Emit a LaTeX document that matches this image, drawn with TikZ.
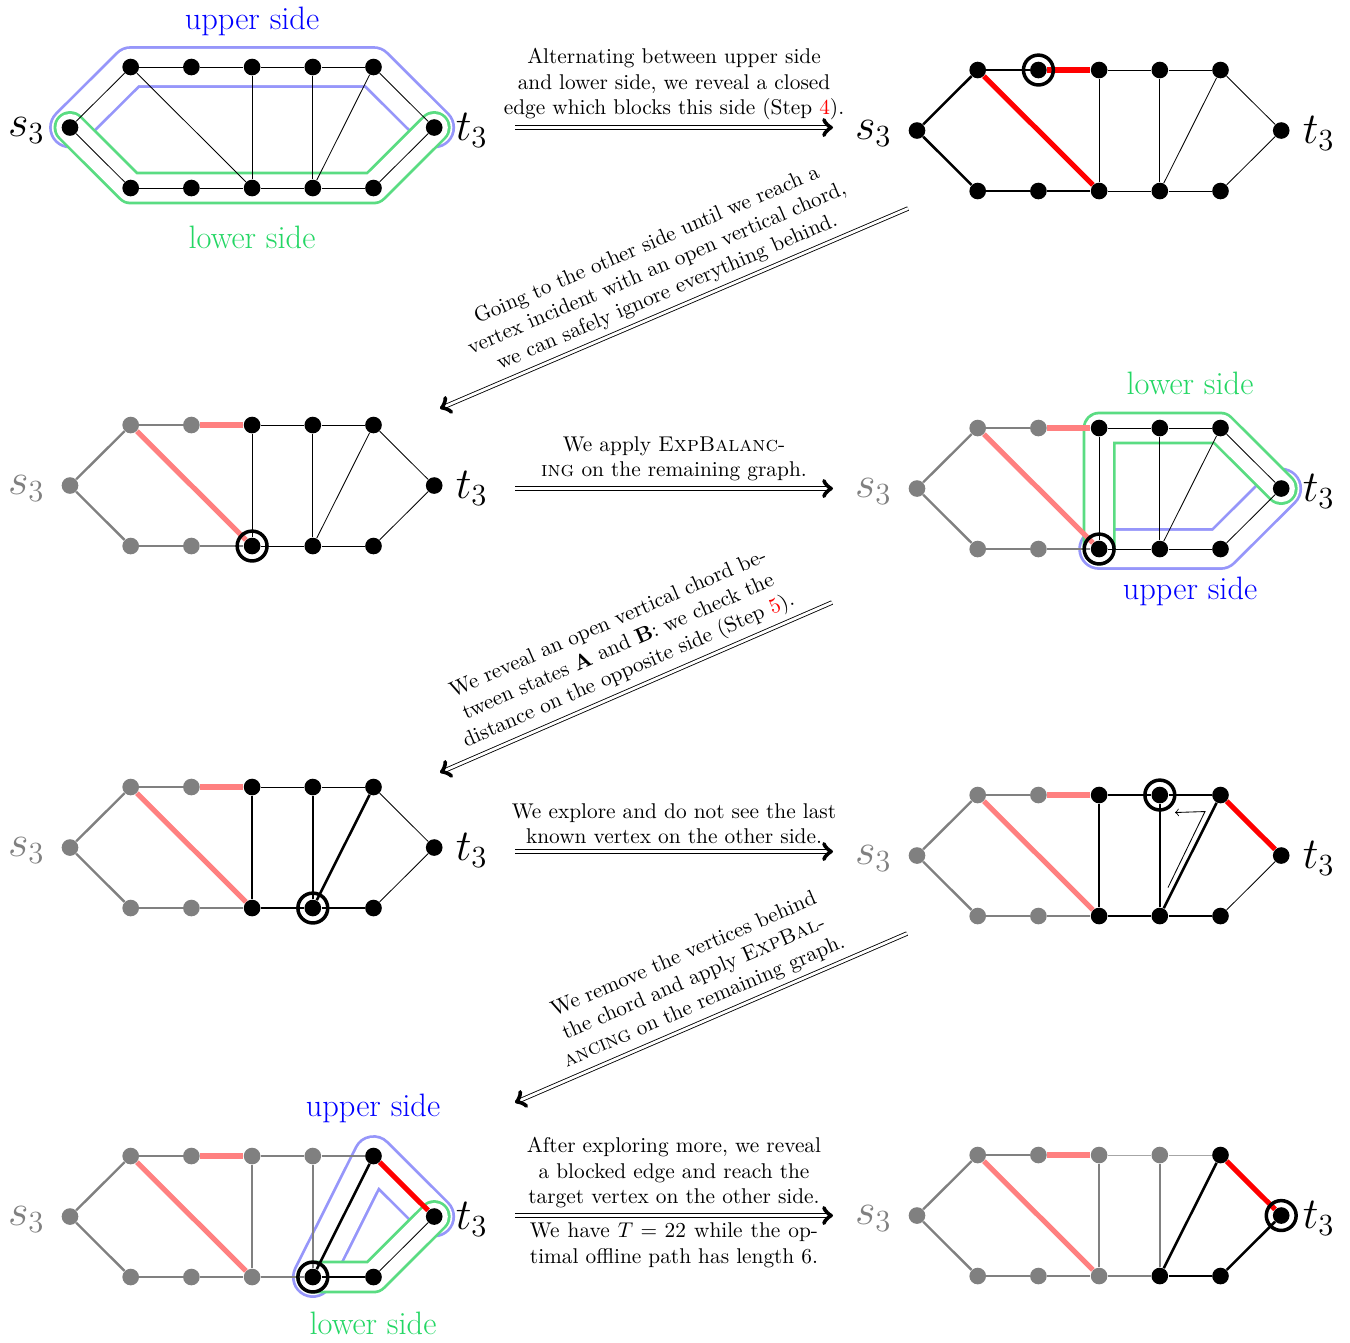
\documentclass[tikz,border=0pt]{standalone}
\usetikzlibrary{positioning,calc}
\pgfdeclarelayer{bglayer}
\pgfdeclarelayer{bandlayer}
\pgfdeclarelayer{edgelayer}
\pgfsetlayers{bglayer,bandlayer,edgelayer,main}
\definecolor{bandblue}{RGB}{150,150,250}
\definecolor{sideblue}{RGB}{0,0,255}
\definecolor{bandgreen}{RGB}{90,220,130}
\definecolor{sidegreen}{RGB}{35,215,100}
\definecolor{fadered}{RGB}{255,128,128}
\newlength\capw
\def\U{60.7}
\def\V{60.5}
\tikzset{
 vtx/.style={circle, fill=black, inner sep=0pt, minimum size=7.8pt},
 ring/.style={circle, draw=black, line width=1.64pt, inner sep=0pt, minimum size=14pt},
 lbl/.style={font=\fontsize{22}{26}\selectfont, inner sep=3.33pt, yshift=-1.4pt},
 thinE/.style={draw=black, line width=0.4pt},
 thickE/.style={draw=black, line width=1.2pt},
 redE/.style={draw=red, line width=2.4pt},
 fadeE/.style={draw=fadered, line width=2.4pt},
 grayE/.style={draw=gray, line width=1.1pt},
 grayThin/.style={draw=gray!70, line width=0.5pt},
 blueband/.style={draw=bandblue, line width=19.6pt, line cap=round, line join=round, postaction={draw=white, line width=17.0pt}},
 greenband/.style={draw=bandgreen, line width=15.4pt, line cap=round, line join=round, postaction={draw=white, line width=12.8pt}},
 bigarr/.style={draw=black, double, double distance=1.3pt, line width=0.4pt, ->},
 captxt/.style={align=center, font=\normalsize},
 sidetxt/.style={font=\fontsize{15.2}{18}\selectfont},
}
\newcommand\mkgraph[5]{%
 \begin{scope}[shift={(#2,#3)}]
  \node[vtx,fill=#4] (#1s) at (0,0) {};
  \node[vtx,fill=#4] (#1u1) at (1*\U,-\V) {};
  \node[vtx,fill=#4] (#1u2) at (2*\U,-\V) {};
  \node[vtx,fill=#5] (#1u3) at (3*\U,-\V) {};
  \node[vtx,fill=#5] (#1u4) at (4*\U,-\V) {};
  \node[vtx] (#1u5) at (5*\U,-\V) {};
  \node[vtx,fill=#4] (#1l1) at (1*\U,\V) {};
  \node[vtx,fill=#4] (#1l2) at (2*\U,\V) {};
  \node[vtx,fill=#5] (#1l3) at (3*\U,\V) {};
  \node[vtx] (#1l4) at (4*\U,\V) {};
  \node[vtx] (#1l5) at (5*\U,\V) {};
  \node[vtx] (#1t) at (6*\U,0) {};
  \node[lbl, text=#4, left=4.3pt of #1s] (#1sl) {$s_3$};
  \node[lbl, right=2.5pt of #1t] (#1tl) {$t_3$};
 \end{scope}}
\newcommand\edges[3]{%
 \begin{pgfonlayer}{edgelayer}
 \foreach \a/\b in {#3} {\draw[#2] (#1\a) -- (#1\b);}
 \end{pgfonlayer}}
\begin{document}
\begin{tikzpicture}[x=0.016474cm, y=-0.016474cm]
\begin{pgfonlayer}{bglayer}
\path[use as bounding box, fill=white] (0,0) rectangle (1350,1340);
\end{pgfonlayer}

% ---------- graphs ----------
\mkgraph{A}{70}{127}{black}{black}
\mkgraph{B}{917}{130}{black}{black}
\mkgraph{C}{70}{485}{gray}{black}
\mkgraph{D}{917}{488}{gray}{black}
\mkgraph{E}{70}{847}{gray}{black}
\mkgraph{F}{917}{855}{gray}{black}
\mkgraph{G}{70}{1216}{gray}{gray}
\mkgraph{H}{917}{1215}{gray}{gray}

% ---------- bands ----------
\begin{pgfonlayer}{bandlayer}
 \draw[blueband] (As.center) -- (Au1.center) -- (Au5.center) -- (At.center);
 \draw[greenband] (As.center) -- (Al1.center) -- (Al5.center) -- (At.center);
 \draw[blueband] (Dl3.center) -- (Dl5.center) -- (Dt.center);
 \draw[greenband] (Dl3.center) -- (Du3.center) -- (Du5.center) -- (Dt.center);
 \draw[blueband] (Gl4.center) -- (Gu5.center) -- (Gt.center);
 \draw[greenband] (Gl4.center) -- (Gl5.center) -- (Gt.center);
\end{pgfonlayer}
\node[sidetxt, text=sideblue] (A-up) at (252,21) {upper side};
\node[sidetxt, text=sidegreen] (A-lo) at (252,237) {lower side};
\node[sidetxt, text=sidegreen] (D-lo) at (1190,383) {lower side};
\node[sidetxt, text=sideblue] (D-up) at (1190,591) {upper side};
\node[sidetxt, text=sideblue] (G-up) at (373,1108) {upper side};
\node[sidetxt, text=sidegreen] (G-lo) at (373,1323) {lower side};

% ---------- edges ----------
\edges{A}{thinE}{s/u1,s/l1,u1/u2,u2/u3,u3/u4,u4/u5,u5/t,l1/l2,l2/l3,l3/l4,l4/l5,l5/t,u1/l3,u3/l3,u4/l4,u5/l4}

\edges{B}{thickE}{s/u1,s/l1,u1/u2,l1/l2,l2/l3}
\edges{B}{redE}{u1/l3,u2/u3}
\edges{B}{thinE}{u3/u4,u4/u5,u5/t,l3/l4,l4/l5,l5/t,u3/l3,u4/l4,u5/l4}

\edges{C}{grayE}{s/u1,s/l1,u1/u2,l1/l2,l2/l3}
\edges{C}{fadeE}{u1/l3,u2/u3}
\edges{C}{thinE}{u3/u4,u4/u5,u5/t,l3/l4,l4/l5,l5/t,u3/l3,u4/l4,u5/l4}

\edges{D}{grayE}{s/u1,s/l1,u1/u2,l1/l2,l2/l3}
\edges{D}{fadeE}{u1/l3,u2/u3}
\edges{D}{thinE}{u3/u4,u4/u5,u5/t,l3/l4,l4/l5,l5/t,u3/l3,u4/l4,u5/l4}

\edges{E}{grayE}{s/u1,s/l1,u1/u2,l1/l2,l2/l3}
\edges{E}{fadeE}{u1/l3,u2/u3}
\edges{E}{thickE}{u3/l3,u4/l4,l3/l4,l4/l5,u5/l4}
\edges{E}{thinE}{u3/u4,u4/u5,u5/t,l5/t}

\edges{F}{grayE}{s/u1,s/l1,u1/u2,l1/l2,l2/l3}
\edges{F}{fadeE}{u1/l3,u2/u3}
\edges{F}{thickE}{u3/u4,u4/u5,u3/l3,u4/l4,l3/l4,l4/l5,u5/l4}
\edges{F}{redE}{u5/t}
\edges{F}{thinE}{l5/t}

\edges{G}{grayE}{s/u1,s/l1,u1/u2,u3/u4,u4/u5,l1/l2,l2/l3,l3/l4,u3/l3,u4/l4}
\edges{G}{fadeE}{u1/l3,u2/u3}
\edges{G}{thickE}{u5/l4,l4/l5}
\edges{G}{redE}{u5/t}
\edges{G}{thinE}{l5/t}

\edges{H}{grayE}{s/u1,s/l1,u1/u2,l1/l2,l2/l3,l3/l4,u3/l3,u4/l4}
\edges{H}{grayThin}{u3/u4,u4/u5}
\edges{H}{fadeE}{u1/l3,u2/u3}
\edges{H}{thickE}{u5/l4,l4/l5,l5/t}
\edges{H}{redE}{u5/t}

% ---------- current vertices ----------
\node[ring] (B-cur) at (Bu2) {};
\node[ring] (C-cur) at (Cl3) {};
\node[ring] (D-cur) at (Dl3) {};
\node[ring] (E-cur) at (El4) {};
\node[ring] (F-cur) at (Fu4) {};
\node[ring] (G-cur) at (Gl4) {};
\node[ring] (H-cur) at (Ht) {};

% small arrow in graph F
\coordinate (fp1) at (1168,887);
\coordinate (fp2) at (1205,811);
\coordinate (fp3) at (1175,812);
\draw[thinE, ->] (fp1) -- (fp2) -- (fp3);

% ---------- transitions ----------
\coordinate (r1a) at (515,127); \coordinate (r1b) at (833,127);
\coordinate (d1a) at (908,208); \coordinate (d1b) at (440,408);
\coordinate (r2a) at (515,488); \coordinate (r2b) at (833,488);
\coordinate (d2a) at (832,602); \coordinate (d2b) at (440,772);
\coordinate (r3a) at (515,851); \coordinate (r3b) at (833,851);
\coordinate (d3a) at (907,933); \coordinate (d3b) at (515,1102);
\coordinate (r4a) at (515,1215); \coordinate (r4b) at (833,1215);

\draw[bigarr] (r1a) -- (r1b) node[midway, above, captxt] (c1) {Alternating between upper side\\and lower side, we reveal a closed\\edge which blocks this side (Step~\textcolor{red}{4}).};
\draw[bigarr] (d1a) -- (d1b) node[midway, above, sloped, captxt] (c2) {Going to the other side until we reach a\\vertex incident with an open vertical chord,\\we can safely ignore everything behind.};
\draw[bigarr] (r2a) -- (r2b) node[midway, above, captxt] (c3) {We apply \textsc{ExpBalanc}-\\\textsc{ing} on the remaining graph.};
\draw[bigarr] (d2a) -- (d2b) node[midway, above, sloped, captxt] (c4) {We reveal an open vertical chord be-\\tween states \textbf{A} and \textbf{B}: we check the\\distance on the opposite side (Step~\textcolor{red}{5}).};
\draw[bigarr] (r3a) -- (r3b) node[midway, above, captxt] (c5) {We explore and do not see the last\\known vertex on the other side.};
\draw[bigarr] (d3a) -- (d3b) node[midway, above, sloped, captxt] (c6) {We remove the vertices behind\\the chord and apply \textsc{ExpBal}-\\\textsc{ancing} on the remaining graph.};
\draw[bigarr] (r4a) -- (r4b)
  node[midway, above, captxt] (c7) {After exploring more, we reveal\\a blocked edge and reach the\\target vertex on the other side.}
  node[midway, below, captxt] (c8) {\settowidth{\capw}{timal offline path has length 6.}\makebox[\capw][s]{We have $T = 22$ while the op-}\\timal offline path has length 6.};
\end{tikzpicture}
\end{document}
